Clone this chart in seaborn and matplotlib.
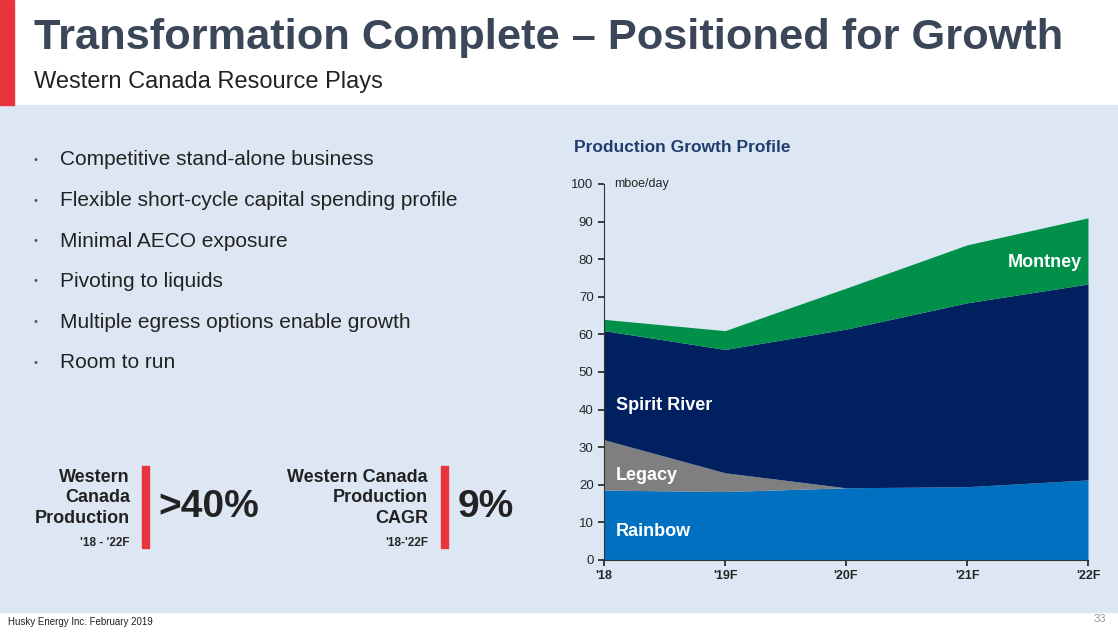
import matplotlib
matplotlib.use("Agg")
import matplotlib.pyplot as plt
import seaborn as sns
from matplotlib.patches import Rectangle

sns.set_theme(style="white")
plt.rcParams['font.family'] = ['Liberation Sans', 'DejaVu Sans']

years = ["'18", "'19F", "'20F", "'21F", "'22F"]
rainbow = [18.6, 18.2, 19.2, 19.5, 21.3]
legacy = [13.4, 5.0, 0.0, 0.0, 0.0]
spirit_river = [29.0, 32.8, 42.2, 48.9, 52.1]
montney = [3.0, 5.0, 10.9, 15.4, 17.6]
series_names = ["Rainbow", "Legacy", "Spirit River", "Montney"]
colors = ["#0070c0", "#7f7f7f", "#002060", "#00904a"]
bullets = ["Competitive stand-alone business",
           "Flexible short-cycle capital spending profile",
           "Minimal AECO exposure",
           "Pivoting to liquids",
           "Multiple egress options enable growth",
           "Room to run"]

W, H = 1118, 636
fig = plt.figure(figsize=(W/100, H/100), dpi=100)
fig.patch.set_facecolor("white")
def fx(x): return x / W
def fy(y): return 1 - y / H

bg = fig.add_axes([0, 0, 1, 1], zorder=-10)
bg.set_xlim(0, 1); bg.set_ylim(0, 1); bg.axis("off")
bg.add_patch(Rectangle((0, fy(612)), 1, fy(105) - fy(612), color="#dde7f3"))
bg.add_patch(Rectangle((0, fy(105)), fx(14), fy(0) - fy(105), color="#e8343c"))
bg.add_patch(Rectangle((fx(142), fy(548)), fx(7), fy(466) - fy(548), color="#e8343c"))
bg.add_patch(Rectangle((fx(441), fy(548)), fx(7), fy(466) - fy(548), color="#e8343c"))

fig.text(fx(34), fy(38), "Transformation Complete – Positioned for Growth", fontsize=31.2,
         fontweight="bold", color="#3b4758", va="center")
fig.text(fx(34), fy(82), "Western Canada Resource Plays", fontsize=17, color="#222222", va="center")

for i, b in enumerate(bullets):
    y = fy(160 + i * 40.5)
    fig.text(fx(34), y, "•", fontsize=8, color="#555555", va="center")
    fig.text(fx(60), y, b, fontsize=15, color="#222222", va="center")

fig.text(fx(130), fy(498), "Western\nCanada\nProduction", fontsize=13, fontweight="bold",
         ha="right", va="center", color="#222222", linespacing=1.25)
fig.text(fx(130), fy(543), "'18 - '22F", fontsize=8.5, fontweight="bold", ha="right", va="center")
fig.text(fx(158), fy(507), ">40%", fontsize=28, fontweight="bold", va="center", color="#222222")
fig.text(fx(428), fy(498), "Western Canada\nProduction\nCAGR", fontsize=13, fontweight="bold",
         ha="right", va="center", color="#222222", linespacing=1.25)
fig.text(fx(428), fy(543), "'18-'22F", fontsize=8.5, fontweight="bold", ha="right", va="center")
fig.text(fx(458), fy(507), "9%", fontsize=28, fontweight="bold", va="center", color="#222222")

fig.text(fx(574), fy(147), "Production Growth Profile", fontsize=12.5, fontweight="bold",
         color="#1f3d6e", va="center")
fig.text(fx(8), fy(622), "Husky Energy Inc. February 2019", fontsize=7, va="center", color="#222222")
fig.text(fx(1106), fy(619), "33", fontsize=8, va="center", ha="right", color="#999999")

ax = fig.add_axes([fx(604), fy(560), fx(1088) - fx(604), fy(184) - fy(560)])
ax.set_facecolor("none")
x = list(range(len(years)))
ax.stackplot(x, rainbow, legacy, spirit_river, montney, colors=colors, labels=series_names,
             linewidth=0)
ax.set_xlim(0, 4)
ax.set_ylim(0, 100)
ax.set_xticks(x)
ax.set_xticklabels(years, fontsize=9, fontweight="bold")
ax.set_yticks(range(0, 101, 10))
ax.tick_params(axis="y", labelsize=9.5, length=4, left=True)
ax.tick_params(axis="x", length=4, bottom=True)
for s in ["top", "right"]:
    ax.spines[s].set_visible(False)
for s in ["left", "bottom"]:
    ax.spines[s].set_color("#333333")
    ax.spines[s].set_linewidth(0.8)
ax.text(0.08, 100, "mboe/day", fontsize=9, va="center")
ax.text(0.1, 7.5, "Rainbow", color="white", fontsize=13, fontweight="bold", va="center")
ax.text(0.1, 22.5, "Legacy", color="white", fontsize=13, fontweight="bold", va="center")
ax.text(0.1, 41, "Spirit River", color="white", fontsize=13, fontweight="bold", va="center")
ax.text(3.95, 79, "Montney", color="white", fontsize=13, fontweight="bold", va="center", ha="right")

fig.savefig("out.png", dpi=100)
